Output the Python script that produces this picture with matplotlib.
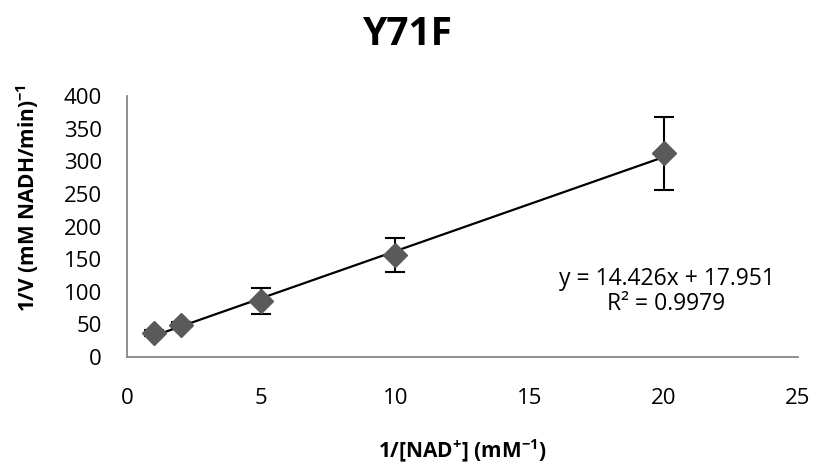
"""Lineweaver-Burk plot for the Y71F mutant."""

import matplotlib

matplotlib.use("Agg")
from matplotlib import pyplot as plt
import numpy as np

inv_nad = [1, 2, 5, 10, 20]
inv_v = [37, 49, 86, 156, 312]
inv_v_err = [5, 5, 20, 26, 56]

slope = 14.426
intercept = 17.951
r_squared = 0.9979

x_ticks = [0, 5, 10, 15, 20, 25]
y_ticks = [0, 50, 100, 150, 200, 250, 300, 350, 400]

plt.rcParams["font.family"] = ["Open Sans", "DejaVu Sans"]
plt.rcParams["mathtext.fontset"] = "custom"
plt.rcParams["mathtext.rm"] = "Open Sans"
plt.rcParams["mathtext.bf"] = "Open Sans:bold"

fig = plt.figure(figsize=(8.18, 4.69), dpi=100)
ax = fig.add_axes([0.1553, 0.2388, 0.8202, 0.5565])

fit_x = np.array([min(inv_nad), max(inv_nad)])
ax.plot(fit_x, slope * fit_x + intercept, color="black", lw=1.6, zorder=2)

ax.errorbar(inv_nad, inv_v, yerr=inv_v_err, fmt="none", ecolor="black",
            elinewidth=1.5, capsize=7, capthick=1.5, zorder=3)
ax.plot(inv_nad, inv_v, linestyle="none", marker="D", markersize=12,
        color="#5a5a5a", zorder=4)

ax.set_xlim(0, 25)
ax.set_ylim(0, 400)
ax.set_xticks(x_ticks)
ax.set_yticks(y_ticks)
ax.tick_params(length=0, labelsize=16)
ax.tick_params(axis="x", pad=22)
ax.tick_params(axis="y", pad=18)

for side in ("top", "right"):
    ax.spines[side].set_visible(False)
for side in ("left", "bottom"):
    ax.spines[side].set_color("#868686")
    ax.spines[side].set_linewidth(1.3)

ax.text(0.804, 0.252, f"y = {slope}x + {intercept}\nR² = {r_squared}",
        transform=ax.transAxes, ha="center", va="center", fontsize=16.5,
        linespacing=1.05)

fig.suptitle("Y71F", x=0.499, y=0.927, va="center", fontsize=28,
             fontweight="bold")
ax.set_xlabel(r"1/[NAD$^{\mathbf{+}}$] (mM$^{\mathbf{-1}}$)", fontsize=15,
              fontweight="bold")
ax.xaxis.set_label_coords(0.5, -0.31)
fig.text(0.034, 0.578, r"1/V (mM NADH/min)$^{\mathbf{-1}}$", rotation=90,
         ha="center", va="center", fontsize=15, fontweight="bold")

fig.savefig("out.png", dpi=100)
